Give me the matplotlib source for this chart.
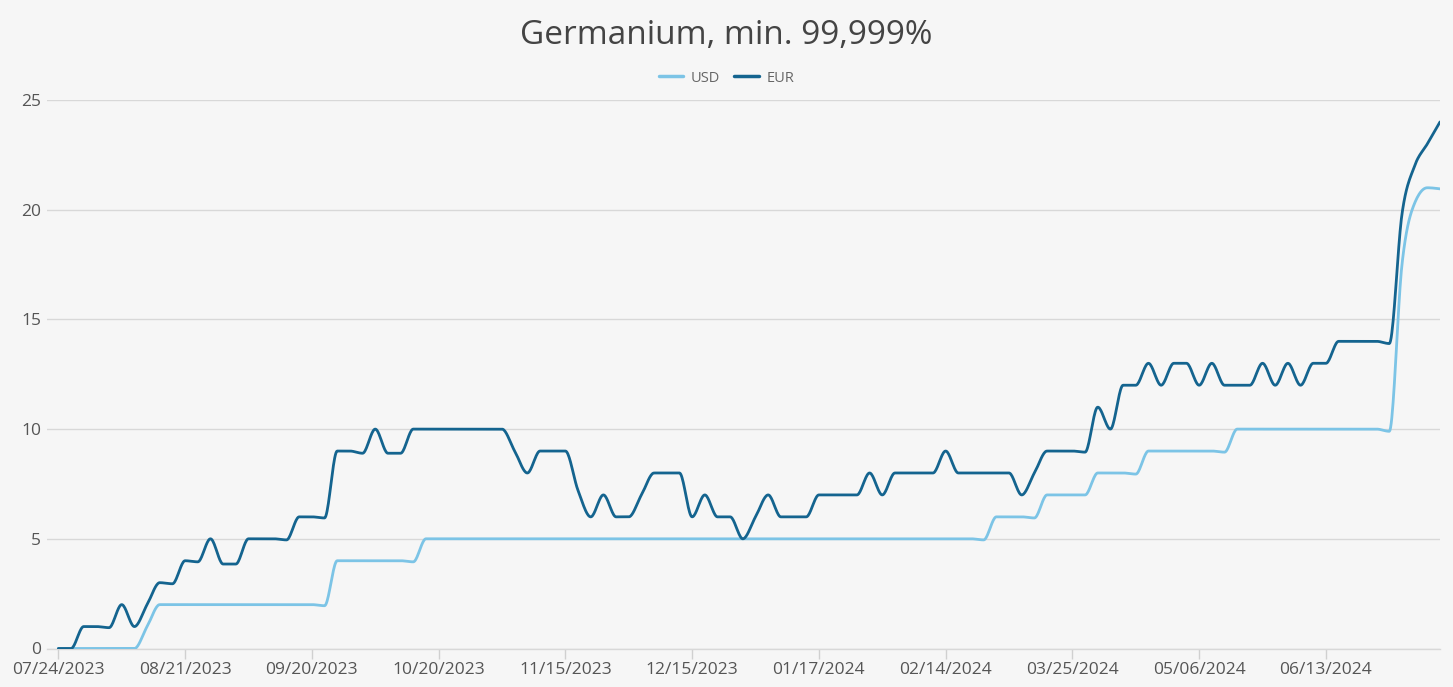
import numpy as np
import matplotlib
matplotlib.use("Agg")
import matplotlib.pyplot as plt

# ---------------- data ----------------
tick_labels = ["07/24/2023", "08/21/2023", "09/20/2023", "10/20/2023", "11/15/2023",
               "12/15/2023", "01/17/2024", "02/14/2024", "03/25/2024", "05/06/2024",
               "06/13/2024"]
tick_index = [0, 10, 20, 30, 40, 50, 60, 70, 80, 90, 100]

usd = [0, 0, 0, 0, 0, 0, 0, 1, 2, 2,
       2, 2, 2, 2, 2, 2, 2, 2, 2, 2,
       2, 1.95, 4, 4, 4, 4, 4, 4, 3.95, 5,
       5, 5, 5, 5, 5, 5, 5, 5, 5, 5,
       5, 5, 5, 5, 5, 5, 5, 5, 5, 5,
       5, 5, 5, 5, 5, 5, 5, 5, 5, 5,
       5, 5, 5, 5, 5, 5, 5, 5, 5, 5,
       5, 5, 5, 4.95, 6, 6, 6, 5.95, 7, 7,
       7, 7, 8, 8, 8, 7.95, 9, 9, 9, 9,
       9, 9, 8.95, 10, 10, 10, 10, 10, 10, 10,
       10, 10, 10, 10, 10, 9.9, 17.5, 20.3, 21, 20.95]

eur = [0, 0, 1, 1, 0.95, 2, 1, 2, 3, 2.95,
       4, 3.95, 5, 3.85, 3.85, 5, 5, 5, 4.95, 6,
       6, 5.95, 9, 9, 8.9, 10, 8.9, 8.9, 10, 10,
       10, 10, 10, 10, 10, 10, 9, 8, 9, 9,
       9, 7.2, 6, 7, 6, 6, 7, 8, 8, 8,
       6, 7, 6, 6, 5, 6, 7, 6, 6, 6,
       7, 7, 7, 7, 8, 7, 8, 8, 8, 8,
       9, 8, 8, 8, 8, 8, 7, 8, 9, 9,
       9, 8.95, 11, 10, 12, 12, 13, 12, 13, 13,
       12, 13, 12, 12, 12, 13, 12, 13, 12, 13,
       13, 14, 14, 14, 14, 13.9, 19.8, 22, 23, 24]

series_names = ["USD", "EUR"]
series_colors = ["#7cc4e6", "#14648f"]


def monotone(y, n=20):
    """Monotone cubic (Fritsch-Carlson / d3 monotoneX) on unit-spaced x."""
    y = np.asarray(y, float)
    k = len(y)
    d = np.diff(y)
    m = np.zeros(k)
    for i in range(1, k - 1):
        s0, s1 = d[i - 1], d[i]
        p = (s0 + s1) / 2
        if s0 * s1 <= 0:
            m[i] = 0
        else:
            m[i] = (np.sign(s0) + np.sign(s1)) * min(abs(s0), abs(s1), 0.5 * abs(p))
    m[0] = (3 * d[0] - m[1]) / 2 if k > 2 else d[0]
    m[-1] = (3 * d[-1] - m[-2]) / 2 if k > 2 else d[-1]
    xs, ys = [], []
    t = np.linspace(0, 1, n, endpoint=False)
    h00 = 2 * t**3 - 3 * t**2 + 1
    h10 = t**3 - 2 * t**2 + t
    h01 = -2 * t**3 + 3 * t**2
    h11 = t**3 - t**2
    for i in range(k - 1):
        xs.append(i + t)
        ys.append(h00 * y[i] + h10 * m[i] + h01 * y[i + 1] + h11 * m[i + 1])
    xs.append([k - 1])
    ys.append([y[-1]])
    return np.concatenate(xs), np.concatenate(ys)


FONT = ["Open Sans", "DejaVu Sans"]
plt.rcParams["font.family"] = FONT

bg = "#f6f6f6"
fig = plt.figure(figsize=(14.53, 6.87), dpi=100, facecolor=bg)
ax = fig.add_axes([46.7 / 1453, 1 - 648.5 / 687, (1440 - 46.7) / 1453, (648.5 - 100) / 687])
ax.set_facecolor(bg)

for vals, name, col in zip([usd, eur], series_names, series_colors):
    xs, ys = monotone(vals)
    ax.plot(xs, ys, color=col, lw=2.0, label=name, solid_capstyle="round", zorder=3)

ax.set_xlim(-0.92, len(eur) - 1)
ax.set_ylim(0, 25)
ax.set_yticks([0, 5, 10, 15, 20, 25])
ax.set_xticks(tick_index)
ax.set_xticklabels(tick_labels)

ax.grid(axis="y", color="#d8d8d8", lw=1)
ax.grid(axis="x", visible=False)
for s in ["top", "right", "left"]:
    ax.spines[s].set_visible(False)
ax.spines["bottom"].set_color("#d8d8d8")
ax.spines["bottom"].set_linewidth(1)

ax.tick_params(axis="x", length=7, color="#d0d0d0", width=1, pad=2.5,
               labelsize=12.5, labelcolor="#555555")
ax.tick_params(axis="y", length=0, pad=4, labelsize=12.5, labelcolor="#555555")

fig.text(0.5, 1 - 36 / 687, "Germanium, min. 99,999%", ha="center", va="center",
         fontsize=24, color="#444444")

leg = fig.legend(loc="center", bbox_to_anchor=(0.5, 1 - 78 / 687), ncol=2, frameon=False,
                 fontsize=10.5, handlelength=1.7, handletextpad=0.5, columnspacing=1.0,
                 labelcolor="#666666")
for line in leg.get_lines():
    line.set_linewidth(2.5)

fig.savefig("out.png", dpi=100, facecolor=bg)
